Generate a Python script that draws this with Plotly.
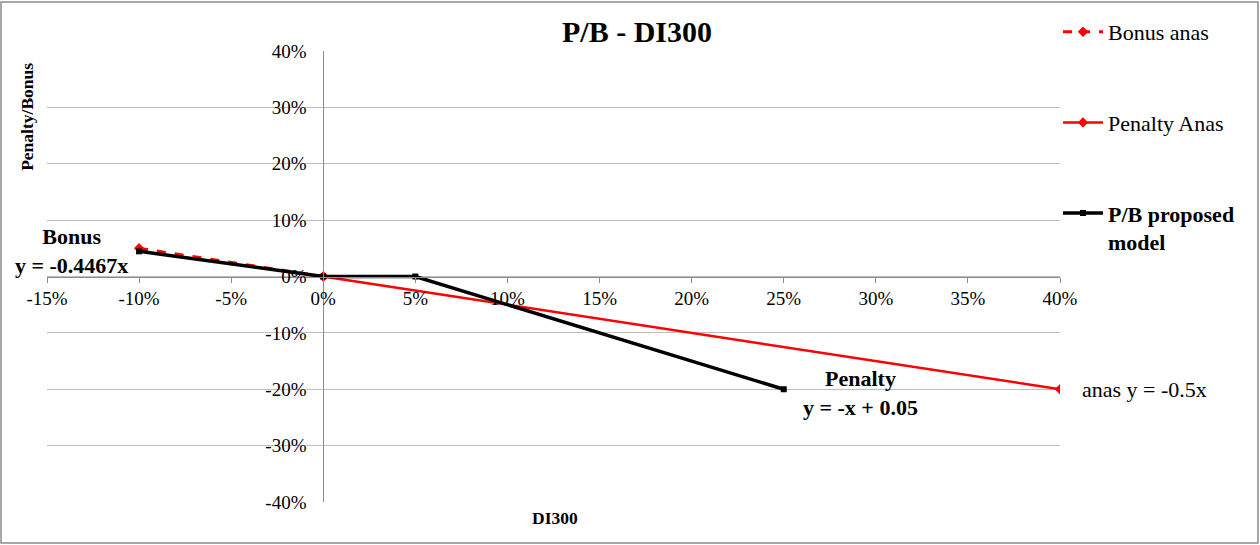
import plotly.graph_objects as go

# ---- data ----
bonus_x = [-0.10, 0.0]
bonus_y = [0.05, 0.0]
pen_x = [0.0, 0.40]
pen_y = [0.0, -0.20]
model_x = [-0.10, 0.0, 0.05, 0.25]
model_y = [0.04467, 0.0, 0.0, -0.20]

x_ticks = [-0.15, -0.10, -0.05, 0.0, 0.05, 0.10, 0.15, 0.20, 0.25, 0.30, 0.35, 0.40]
x_ticktext = ["-15%", "-10%", "-5%", "0%", "5%", "10%", "15%", "20%", "25%", "30%", "35%", "40%"]
y_ticks = [-0.4, -0.3, -0.2, -0.1, 0.0, 0.1, 0.2, 0.3, 0.4]
y_ticktext = ["-40%", "-30%", "-20%", "-10%", "0%", "10%", "20%", "30%", "40%"]

FONT = "Liberation Serif, Times New Roman, serif"

fig = go.Figure()
fig.add_trace(go.Scatter(
    x=bonus_x, y=bonus_y, mode="lines+markers", name="Bonus anas",
    line=dict(color="#ff0000", width=3, dash="dash"),
    marker=dict(symbol="diamond", size=8, color="#ff0000"),
    legendgroup="a"))
fig.add_trace(go.Scatter(
    x=pen_x, y=pen_y, mode="lines+markers", name="Penalty Anas",
    line=dict(color="#ff0000", width=2.5),
    marker=dict(symbol="diamond", size=8, color="#ff0000"),
    legendgroup="b"))
fig.add_trace(go.Scatter(
    x=model_x, y=model_y, mode="lines+markers", name="<b>P/B proposed<br>model</b>",
    line=dict(color="#000000", width=3.5),
    marker=dict(symbol="square", size=6, color="#000000"),
    legendgroup="c"))

L, R, T, B = 47, 200, 50, 43
W, H = 1260, 545
pw, ph = W - L - R, H - T - B


def px2x(px):
    return (px - L) / pw


def py2y(py):
    return (H - B - py) / ph


fig.update_layout(
    width=W, height=H,
    margin=dict(l=L, r=R, t=T, b=B),
    paper_bgcolor="white", plot_bgcolor="white",
    font=dict(family=FONT, size=19, color="black"),
    title=dict(text="<b>P/B - DI300</b>", x=637 / W, xanchor="center",
               y=1 - 31 / H, yanchor="middle", yref="container",
               font=dict(family=FONT, size=30, color="black")),
    xaxis=dict(range=[-0.15, 0.40], tickvals=x_ticks, ticktext=x_ticktext,
               anchor="free", position=0.5, showgrid=False, zeroline=False,
               showline=True, linecolor="#8c8c8c", linewidth=1,
               ticks="outside", ticklen=5, tickcolor="#8c8c8c",
               tickfont=dict(family=FONT, size=19, color="black")),
    yaxis=dict(range=[-0.4, 0.4], tickvals=y_ticks, ticktext=y_ticktext,
               anchor="free", position=0.15 / 0.55, showgrid=True,
               gridcolor="#bdbdbd", gridwidth=1, zeroline=False,
               showline=True, linecolor="#8c8c8c", linewidth=1,
               ticks="", ticklabelstandoff=13,
               tickfont=dict(family=FONT, size=19, color="black")),
    showlegend=True,
    legend=dict(x=px2x(1058), y=py2y(11), xanchor="left", yanchor="top",
                font=dict(family=FONT, size=22, color="black"),
                tracegroupgap=59, valign="top", bgcolor="rgba(0,0,0,0)",
                itemwidth=40),
)

anns = [
    dict(x=px2x(71), y=py2y(250), text="<b>Bonus<br>y = -0.4467x</b>"),
    dict(x=px2x(860), y=py2y(393), text="<b>Penalty<br>y = -x + 0.05</b>"),
    dict(x=px2x(1080), y=py2y(389), text="anas y = -0.5x", xanchor="left"),
    dict(x=px2x(555), y=py2y(518), text="<b>DI300</b>", font=dict(family=FONT, size=17.5, color="black")),
    dict(x=px2x(27), y=py2y(116), text="<b>Penalty/Bonus</b>", textangle=-90,
         font=dict(family=FONT, size=17.5, color="black")),
]
for a in anns:
    base = dict(xref="paper", yref="paper", showarrow=False, xanchor="center",
                yanchor="middle", align="center",
                font=dict(family=FONT, size=22, color="black"))
    base.update(a)
    fig.add_annotation(**base)

fig.add_shape(type="rect", xref="paper", yref="paper",
              x0=px2x(1), x1=px2x(1258), y0=py2y(543), y1=py2y(1),
              line=dict(color="#8c8c8c", width=1.5), fillcolor="rgba(0,0,0,0)")

fig.write_html("out.html", config={"displayModeBar": False},
               post_script="document.body.style.margin='0';document.body.style.overflow='hidden';")
